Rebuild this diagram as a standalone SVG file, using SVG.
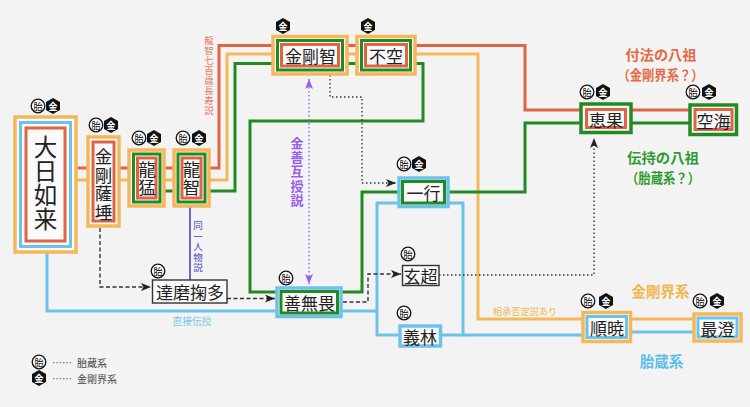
<svg xmlns="http://www.w3.org/2000/svg" xmlns:xlink="http://www.w3.org/1999/xlink" width="750" height="407" viewBox="0 0 750 407">
<style>
text{font-family:"Noto Sans CJK JP","Noto Sans",sans-serif;}
.nt{font-size:17px;fill:#222;text-anchor:middle;dominant-baseline:central;}
.vt{fill:#222;text-anchor:middle;writing-mode:vertical-rl;}
.vl{text-anchor:middle;writing-mode:vertical-rl;}
.o{fill:#fafafa;stroke:#f4b75a;stroke-width:3.5;}
.b{fill:none;stroke:#6cc3ea;stroke-width:3;}
.bo{fill:#fafafa;stroke:#6cc3ea;stroke-width:3.5;}
.r{fill:none;stroke:#de6446;stroke-width:3;}
.g{fill:none;stroke:#238a23;stroke-width:3;}
.go{fill:#fafafa;stroke:#238a23;stroke-width:3.5;}
.k{fill:#fafafa;stroke:#333;stroke-width:1.4;}
.lr{fill:none;stroke:#de6446;stroke-width:3;}
.lo{fill:none;stroke:#f4b75a;stroke-width:3;}
.lg{fill:none;stroke:#238a23;stroke-width:3;}
.lb{fill:none;stroke:#6cc3ea;stroke-width:3;}
.dash{fill:none;stroke:#333;stroke-width:1.4;stroke-dasharray:4 2.5;}
.dot{fill:none;stroke:#333;stroke-width:1.4;stroke-dasharray:1.5 2.5;}
.pdot{fill:none;stroke:#9a5cf0;stroke-width:1.4;stroke-dasharray:1.5 2.5;}
.sm{text-anchor:middle;dominant-baseline:central;}
</style>
<defs>
<marker id="ak" viewBox="0 0 10 8" refX="10" refY="4" markerWidth="10" markerHeight="8" markerUnits="userSpaceOnUse" orient="auto">
<path d="M0,0 L10,4 L0,8 L2.5,4 z" fill="#222"/>
</marker>
<marker id="ap" viewBox="0 0 10 8" refX="10" refY="4" markerWidth="10" markerHeight="8" markerUnits="userSpaceOnUse" orient="auto-start-reverse">
<path d="M0,0 L10,4 L0,8 L2.5,4 z" fill="#9a5cf0"/>
</marker>
<g id="tai">
<circle r="6.8" fill="#fff" stroke="#111" stroke-width="1.3"/>
<text font-size="9.5" fill="#111" text-anchor="middle" dominant-baseline="central">胎</text>
</g>
<g id="kin">
<polygon points="0,-8 7,-4 7,4 0,8 -7,4 -7,-4" fill="#111"/>
<text font-size="9" font-weight="bold" fill="#fff" text-anchor="middle" dominant-baseline="central">金</text>
</g>
</defs>
<rect width="750" height="407" fill="#f3f3f3"/>

<g id="connectors">
<path class="lr" d="M70 168 H219 V45.5 H525 V110 H700"/>
<path class="lo" d="M70 180 H227 V54 H478 V319 H700"/>
<path class="lg" d="M160 191 H235 V63.5 H423 V121 H250 V292 H362 V192 H525 V123 H700"/>
<path class="lb" d="M47 250 V311 H377"/>
<path class="lb" d="M377 203 H463 V335 H377 Z"/>
<path class="lb" d="M463 335 H590 M625 332 H700"/>
<path fill="none" stroke="#3f3fb5" stroke-width="1.5" d="M190 205 V280"/>
<path class="dash" d="M100 228 V287 H151" marker-end="url(#ak)"/>
<path class="dash" d="M227 298.5 H275" marker-end="url(#ak)"/>
<path class="dash" d="M343 302 H368 V274 H401" marker-end="url(#ak)"/>
<path class="dot" d="M330 75 V97 H362 V183 H396" marker-end="url(#ak)"/>
<path class="dot" d="M439 275 H594 V138" marker-end="url(#ak)"/>
<path class="pdot" d="M309 79 V284" marker-start="url(#ap)" marker-end="url(#ap)"/>
</g>

<g id="labels">
<text class="vl" x="209" y="76" font-size="9.5" letter-spacing="0.5" fill="#e77a5a">龍智七百歳長寿説</text>
<text class="vl" x="198" y="247" font-size="9.5" letter-spacing="0.9" fill="#4a4ac8">同一人物説</text>
<text class="vl" x="297" y="172" font-size="13" letter-spacing="1.3" font-weight="bold" fill="#9a5cf0">金善互授説</text>
<text x="192" y="321" class="sm" font-size="9.8" fill="#7cc8ea">直接伝授</text>
<text x="525" y="311" class="sm" font-size="9.2" fill="#f2b550">相承否定説あり</text>
<text x="661" y="54" class="sm" font-size="13.5" font-weight="bold" fill="#e36a43" textLength="71" lengthAdjust="spacingAndGlyphs">付法の八祖</text>
<text x="660.5" y="74" class="sm" font-size="13.5" font-weight="bold" fill="#e36a43" textLength="86" lengthAdjust="spacingAndGlyphs">（金剛界系？）</text>
<text x="663" y="157" class="sm" font-size="13.5" font-weight="bold" fill="#2f9a2f" textLength="72" lengthAdjust="spacingAndGlyphs">伝持の八祖</text>
<text x="663" y="177" class="sm" font-size="13.5" font-weight="bold" fill="#2f9a2f" textLength="74" lengthAdjust="spacingAndGlyphs">（胎蔵系？）</text>
<text x="660.5" y="290" class="sm" font-size="14.5" font-weight="bold" fill="#f2b550">金剛界系</text>
<text x="661.5" y="360" class="sm" font-size="14.5" font-weight="bold" fill="#5dbfe9">胎蔵系</text>
</g>

<g id="legend">
<use href="#tai" x="39" y="362"/>
<use href="#kin" x="39" y="378"/>
<text x="52" y="362" font-size="10" fill="#555" dominant-baseline="central">……</text>
<text x="52" y="378" font-size="10" fill="#555" dominant-baseline="central">……</text>
<text x="77" y="362" font-size="10" fill="#444" dominant-baseline="central">胎蔵系</text>
<text x="77" y="378" font-size="10" fill="#444" dominant-baseline="central">金剛界系</text>
</g>

<g id="node-dainichi">
<rect class="o" x="15" y="117" width="61" height="135"/>
<rect class="b" x="20.5" y="122.5" width="50" height="124"/>
<rect class="r" x="26" y="128" width="39" height="113"/>
<text class="vt" x="45.5" y="183" font-size="23.5" letter-spacing="0.5">大日如来</text>
<use href="#tai" x="38" y="106"/><use href="#kin" x="53" y="106"/>
</g>

<g id="node-kongosatta">
<rect class="o" x="88" y="137" width="31" height="89"/>
<rect class="r" x="93" y="142" width="21" height="79"/>
<text class="vt" x="103.5" y="185" font-size="17.5" letter-spacing="1.2">金剛薩埵</text>
<use href="#tai" x="96" y="125"/><use href="#kin" x="111" y="125"/>
</g>

<g id="node-ryumyo">
<rect class="o" x="129" y="150" width="35" height="56"/>
<rect class="g" x="133.5" y="154" width="26.5" height="48"/>
<rect class="r" x="137.5" y="158" width="18.5" height="40"/>
<text class="vt" x="147" y="179" font-size="17.5" letter-spacing="1">龍猛</text>
<use href="#tai" x="139" y="138"/><use href="#kin" x="154" y="138"/>
</g>

<g id="node-ryuchi">
<rect class="o" x="174" y="150" width="35" height="56"/>
<rect class="g" x="178" y="154" width="27" height="48"/>
<rect class="r" x="182" y="158" width="19" height="40"/>
<text class="vt" x="191.5" y="179" font-size="17.5" letter-spacing="1">龍智</text>
<use href="#tai" x="183" y="138"/><use href="#kin" x="199" y="138"/>
</g>

<g id="node-kongochi">
<rect class="o" x="273" y="36.5" width="74" height="37.5"/>
<rect class="g" x="277.5" y="40.5" width="65" height="29.5"/>
<rect class="r" x="281.5" y="44.5" width="57" height="21.5"/>
<text class="nt" x="310.5" y="55.5">金剛智</text>
<use href="#kin" x="283" y="26"/>
</g>

<g id="node-fuku">
<rect class="o" x="357" y="36.5" width="58" height="37.5"/>
<rect class="g" x="361.5" y="40.5" width="49" height="29.5"/>
<rect class="r" x="365.5" y="44.5" width="41" height="21.5"/>
<text class="nt" x="386" y="55.5">不空</text>
<use href="#kin" x="368" y="26"/>
</g>

<g id="node-dharmagupta">
<rect class="k" x="152.5" y="280" width="74.5" height="23"/>
<text class="nt" x="190" y="291.5">達磨掬多</text>
<use href="#tai" x="158" y="271"/>
</g>

<g id="node-zenmui">
<rect class="bo" x="277" y="288" width="64" height="28.5"/>
<rect class="g" x="281" y="291.5" width="56.5" height="21.5"/>
<text class="nt" x="309.5" y="302">善無畏</text>
<use href="#tai" x="286" y="278"/>
</g>

<g id="node-ichigyo">
<rect class="bo" x="399" y="178" width="49" height="28.5"/>
<rect class="g" x="402.5" y="181.5" width="42" height="21.5"/>
<text class="nt" x="423.5" y="192">一行</text>
<use href="#tai" x="404" y="164"/><use href="#kin" x="419" y="164"/>
</g>

<g id="node-gencho">
<rect class="k" x="402.5" y="265.5" width="36.5" height="20"/>
<text class="nt" x="420.5" y="275.5">玄超</text>
<use href="#tai" x="408" y="254"/>
</g>

<g id="node-girin">
<rect class="bo" x="400" y="326" width="40.5" height="20"/>
<text class="nt" x="420" y="336">義林</text>
<use href="#tai" x="404" y="313"/>
</g>

<g id="node-keika">
<rect class="go" x="581" y="104" width="50" height="28.5"/>
<rect class="r" x="586.5" y="109.5" width="39" height="18"/>
<text class="nt" x="606" y="119">恵果</text>
<use href="#tai" x="587" y="92"/><use href="#kin" x="603" y="92"/>
</g>

<g id="node-kukai">
<rect class="go" x="690" y="105" width="46.5" height="29.5"/>
<rect class="r" x="695" y="109.5" width="37" height="20"/>
<text class="nt" x="713.5" y="120">空海</text>
<use href="#tai" x="693" y="92"/><use href="#kin" x="709" y="92"/>
</g>

<g id="node-jungyo">
<rect class="o" x="583" y="312.5" width="47.5" height="29"/>
<rect class="b" x="587" y="316.5" width="39.5" height="21"/>
<text class="nt" x="607" y="327.5">順暁</text>
<use href="#tai" x="588" y="301"/><use href="#kin" x="606" y="301"/>
</g>

<g id="node-saicho">
<rect class="o" x="694" y="314" width="47" height="27"/>
<rect class="b" x="698" y="318" width="39" height="19"/>
<text class="nt" x="717.5" y="328">最澄</text>
<use href="#tai" x="700" y="301"/><use href="#kin" x="717" y="301"/>
</g>
</svg>
